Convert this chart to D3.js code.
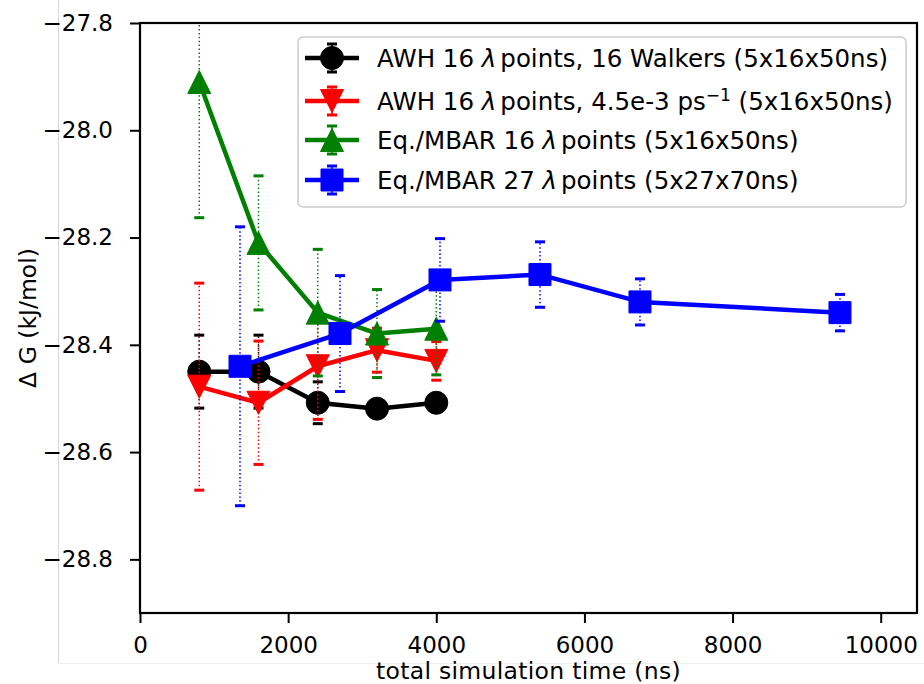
<!DOCTYPE html>
<html>
<head>
<meta charset="utf-8">
<script src="https://cdn.jsdelivr.net/npm/d3@7"></script>
<style>
  body { margin: 0; background: #fff; }
  svg { display: block; font-family: "DejaVu Sans", sans-serif; }
</style>
</head>
<body>
<div id="chart"></div>
<script>
// ---- data ----
const timeAwh = [800, 1600, 2400, 3200, 4000];
const awhWalkers = [-28.45, -28.45, -28.508, -28.519, -28.508];
const awhWalkersErr = [0.068, 0.068, 0.039, 0.015, 0.015];
const awhRate = [-28.478, -28.508, -28.44, -28.41, -28.43];
const awhRateErr = [0.193, 0.115, 0.099, 0.041, 0.036];
const timeMbar16 = [800, 1600, 2400, 3200, 4000];
const mbar16 = [-27.91, -28.21, -28.34, -28.379, -28.37];
const mbar16Err = [0.253, 0.125, 0.118, 0.082, 0.086];
const timeMbar27 = [1350, 2700, 4050, 5400, 6750, 9450];
const mbar27 = [-28.44, -28.379, -28.279, -28.269, -28.32, -28.34];
const mbar27Err = [0.26, 0.108, 0.077, 0.061, 0.043, 0.034];

const xTicks = [0, 2000, 4000, 6000, 8000, 10000];
const yTicks = [-27.8, -28.0, -28.2, -28.4, -28.6, -28.8];

const series = [
  {name: "awh16", color: "#000000", marker: "circle", t: timeAwh, g: awhWalkers, e: awhWalkersErr},
  {name: "awhRate", color: "#ff0000", marker: "tridown", t: timeAwh, g: awhRate, e: awhRateErr},
  {name: "mbar16", color: "#008000", marker: "triup", t: timeMbar16, g: mbar16, e: mbar16Err},
  {name: "mbar27", color: "#0000ff", marker: "square", t: timeMbar27, g: mbar27, e: mbar27Err}
];

const width = 924, height = 684;
const margin = {top: 23, right: 7, bottom: 71, left: 140};

const svg = d3.select("#chart").append("svg")
  .attr("width", width)
  .attr("height", height);

// faint page-crop lines of the original
svg.append("line").attr("x1", 58.5).attr("x2", 58.5).attr("y1", 0).attr("y2", 664)
  .attr("stroke", "#d8d8d8").attr("stroke-width", 1);
svg.append("line").attr("x1", 58).attr("x2", width).attr("y1", 663.5).attr("y2", 663.5)
  .attr("stroke", "#f0f0f0").attr("stroke-width", 1);

const x = d3.scaleLinear().domain([0, 10490]).range([margin.left, width - margin.right]);
const y = d3.scaleLinear().domain([-28.9, -27.8]).range([height - margin.bottom, margin.top]);

svg.append("defs").append("clipPath").attr("id", "plotClip")
  .append("rect")
  .attr("x", margin.left).attr("y", margin.top)
  .attr("width", x.range()[1] - margin.left)
  .attr("height", y.range()[0] - margin.top);

const plot = svg.append("g").attr("clip-path", "url(#plotClip)");

function markerPath(type, cx, cy) {
  const s = 11.5;
  if (type === "circle") {
    return `M${cx - s},${cy}a${s},${s} 0 1,0 ${2 * s},0a${s},${s} 0 1,0 ${-2 * s},0Z`;
  }
  if (type === "square") {
    const q = 11;
    return `M${cx - q},${cy - q}h${2 * q}v${2 * q}h${-2 * q}Z`;
  }
  if (type === "triup") {
    return `M${cx},${cy - s}L${cx + s},${cy + s}L${cx - s},${cy + s}Z`;
  }
  return `M${cx},${cy + s}L${cx + s},${cy - s}L${cx - s},${cy - s}Z`;
}

const line = d3.line();

series.forEach(s => {
  const pts = s.t.map((t, i) => ({t, g: s.g[i], e: s.e[i]}));
  const grp = plot.append("g");

  // error bars
  grp.selectAll(".eb").data(pts).join("line")
    .attr("x1", d => x(d.t)).attr("x2", d => x(d.t))
    .attr("y1", d => y(d.g - d.e)).attr("y2", d => y(d.g + d.e))
    .attr("stroke", s.color).attr("stroke-width", 1.5)
    .attr("stroke-dasharray", "1.5,2.4");
  [-1, 1].forEach(sign => {
    grp.selectAll(".cap" + sign).data(pts).join("line")
      .attr("x1", d => x(d.t) - 5).attr("x2", d => x(d.t) + 5)
      .attr("y1", d => y(d.g + sign * d.e)).attr("y2", d => y(d.g + sign * d.e))
      .attr("stroke", s.color).attr("stroke-width", 3);
  });

  grp.append("path")
    .attr("d", line(pts.map(d => [x(d.t), y(d.g)])))
    .attr("fill", "none").attr("stroke", s.color)
    .attr("stroke-width", 4.5).attr("stroke-linejoin", "round");

  grp.selectAll(".mk").data(pts).join("path")
    .attr("d", d => markerPath(s.marker, x(d.t), y(d.g)))
    .attr("fill", s.color).attr("stroke", s.color).attr("stroke-width", 1);
});

// ---- axes ----
const tickFont = 23;
const labelFont = 23.5;
const xAxis = svg.append("g")
  .attr("transform", `translate(0,${y.range()[0]})`)
  .call(d3.axisBottom(x).tickValues(xTicks).tickFormat(d3.format("d")).tickSize(10).tickPadding(14));
const yAxis = svg.append("g")
  .attr("transform", `translate(${margin.left},0)`)
  .call(d3.axisLeft(y).tickValues(yTicks).tickFormat(d3.format(".1f")).tickSize(10).tickPadding(17));

[xAxis, yAxis].forEach(a => {
  a.select(".domain").remove();
  a.selectAll(".tick line").attr("stroke", "#000").attr("stroke-width", 2);
  a.selectAll(".tick text").attr("fill", "#000")
    .style("font-size", tickFont + "px").style("font-family", "DejaVu Sans");
});

// spines
svg.append("rect")
  .attr("x", margin.left).attr("y", margin.top)
  .attr("width", x.range()[1] - margin.left)
  .attr("height", y.range()[0] - margin.top)
  .attr("fill", "none").attr("stroke", "#000").attr("stroke-width", 2.2);

svg.append("text")
  .attr("x", (margin.left + x.range()[1]) / 2).attr("y", 678.5)
  .attr("text-anchor", "middle")
  .style("font-size", labelFont + "px")
  .style("letter-spacing", "0.3px")
  .text("total simulation time (ns)");

svg.append("text")
  .attr("transform", `translate(36,${(margin.top + y.range()[0]) / 2}) rotate(-90)`)
  .attr("text-anchor", "middle")
  .style("font-size", labelFont + "px")
  .text("\u0394 G (kJ/mol)");

// ---- legend ----
const legend = svg.append("g");
legend.append("rect")
  .attr("x", 298).attr("y", 37).attr("width", 608).attr("height", 170)
  .attr("rx", 5).attr("fill", "#fff").attr("fill-opacity", 0.8)
  .attr("stroke", "#cccccc").attr("stroke-width", 1.5);

const legendFont = 24.5;
const rowY = [58, 101, 140, 180];
const labelParts = [
  [["AWH 16 "], ["\u03bb", "it"], ["points, 16 Walkers (5x16x50ns)", "gap"]],
  [["AWH 16 "], ["\u03bb", "it"], ["points, 4.5e-3 ps", "gap"], ["\u22121", "sup"], [" (5x16x50ns)", "down"]],
  [["Eq./MBAR 16 "], ["\u03bb", "it"], ["points (5x16x50ns)", "gap"]],
  [["Eq./MBAR 27 "], ["\u03bb", "it"], ["points (5x27x70ns)", "gap"]]
];

series.forEach((s, i) => {
  const cy = rowY[i];
  const row = legend.append("g");
  row.append("line").attr("x1", 305).attr("x2", 359).attr("y1", cy).attr("y2", cy)
    .attr("stroke", s.color).attr("stroke-width", 4.5);
  row.append("line").attr("x1", 332).attr("x2", 332).attr("y1", cy - 14).attr("y2", cy + 14)
    .attr("stroke", s.color).attr("stroke-width", 1.5);
  [-14, 14].forEach(dy => row.append("line")
    .attr("x1", 327).attr("x2", 337).attr("y1", cy + dy).attr("y2", cy + dy)
    .attr("stroke", s.color).attr("stroke-width", 3));
  row.append("path").attr("d", markerPath(s.marker, 332, cy))
    .attr("fill", s.color).attr("stroke", s.color).attr("stroke-width", 1);

  const txt = row.append("text").attr("x", 377).attr("y", cy + 8.5)
    .style("font-size", legendFont + "px");
  labelParts[i].forEach(([t, kind]) => {
    const sp = txt.append("tspan").text(t);
    if (kind === "it") sp.style("font-style", "italic");
    if (kind === "gap") sp.attr("dx", 4);
    if (kind === "sup") sp.attr("dy", -9).style("font-size", "17px");
    if (kind === "down") sp.attr("dy", 9);
  });
});
</script>
</body>
</html>
